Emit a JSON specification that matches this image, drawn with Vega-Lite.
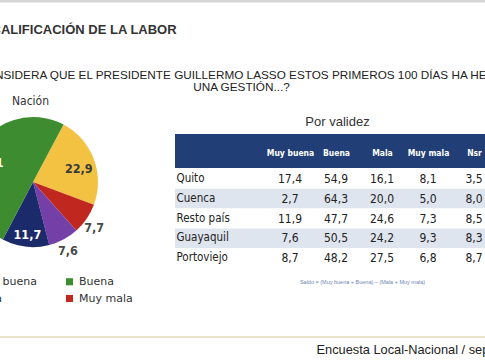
{
  "$schema": "https://vega.github.io/schema/vega-lite/v6.json",
  "width": 485,
  "height": 360,
  "autosize": "none",
  "padding": 0,
  "background": "white",
  "config": {
    "view": {"stroke": null},
    "axis": {"grid": false, "domain": false, "ticks": false, "tickSize": 0, "labels": false, "labelPadding": 0, "labelAngle": 0},
    "locale": {"number": {"decimal": ",", "thousands": ".", "grouping": [3], "currency": ["", " €"]}}
  },
  "datasets": {
    "nacion": [
      {"grupo": "Nación", "categoria": "Mala", "valor": 22.9},
      {"grupo": "Nación", "categoria": "Muy mala", "valor": 7.7},
      {"grupo": "Nación", "categoria": "Nsr", "valor": 7.6},
      {"grupo": "Nación", "categoria": "Muy buena", "valor": 11.7},
      {"grupo": "Nación", "categoria": "Buena", "valor": 50.1}
    ],
    "ciudades": [
      {"ciudad": "Quito", "Muy buena": 17.4, "Buena": 54.9, "Mala": 16.1, "Muy mala": 8.1, "Nsr": 3.5},
      {"ciudad": "Cuenca", "Muy buena": 2.7, "Buena": 64.3, "Mala": 20.0, "Muy mala": 5.0, "Nsr": 8.0},
      {"ciudad": "Resto país", "Muy buena": 11.9, "Buena": 47.7, "Mala": 24.6, "Muy mala": 7.3, "Nsr": 8.5},
      {"ciudad": "Guayaquil", "Muy buena": 7.6, "Buena": 50.5, "Mala": 24.2, "Muy mala": 9.3, "Nsr": 8.3},
      {"ciudad": "Portoviejo", "Muy buena": 8.7, "Buena": 48.2, "Mala": 27.5, "Muy mala": 6.8, "Nsr": 8.7}
    ]
  },
  "resolve": {"scale": {"x": "independent", "y": "independent"}},
  "layer": [
    {
      "data": {"values": [{"seccion": "CALIFICACIÓN DE LA LABOR"}]},
      "mark": {"type": "rule", "color": "#d6d6d6", "strokeWidth": 3},
      "encoding": {
        "y": {"datum": 0, "type": "quantitative", "scale": {"domain": [0, 1], "range": [1, 360]},
          "axis": {"orient": "left", "title": "CALIFICACIÓN DE LA LABOR", "titleAngle": 0, "titleAlign": "left", "titleBaseline": "alphabetic",
            "titleX": -9, "titleY": 33, "titleFont": "Liberation Sans", "titleFontSize": 13, "titleFontWeight": "bold", "titleColor": "#333333"}}
      }
    },
    {
      "data": {"values": [{"fuente": "Encuesta Local-Nacional / septiembre"}]},
      "mark": {"type": "rule", "color": "#e6dbbd", "strokeWidth": 1.5},
      "encoding": {
        "y": {"datum": 0, "type": "quantitative", "scale": {"domain": [0, 1], "range": [337, 360]},
          "axis": {"orient": "left", "title": "Encuesta Local-Nacional / septiembre", "titleAngle": 0, "titleAlign": "left", "titleBaseline": "alphabetic",
            "titleX": 316, "titleY": 353, "titleFont": "Liberation Sans", "titleFontSize": 12.8, "titleFontWeight": "normal", "titleColor": "#222222"}}
      }
    },
    {
      "data": {"name": "ciudades"},
      "transform": [{"window": [{"op": "row_number", "as": "fila"}]}],
      "mark": {"type": "rect"},
      "encoding": {
        "x": {"datum": 0, "type": "quantitative", "scale": {"domain": [0, 1], "range": [175, 490]},
          "axis": {"orient": "bottom", "offset": -79, "title": "Saldo = (Muy buena + Buena) – (Mala + Muy mala)", "titleX": 362, "titleY": 0,
            "titleBaseline": "middle", "titleAlign": "center", "titleFont": "Liberation Sans", "titleFontSize": 5.5, "titleFontWeight": "normal", "titleColor": "#6f86b8"}},
        "x2": {"datum": 1},
        "y": {"field": "ciudad", "type": "nominal", "sort": null,
          "scale": {"type": "band", "range": [169, 268], "paddingInner": 0, "paddingOuter": 0}, "axis": null},
        "color": {"condition": {"test": "datum.fila % 2 == 0", "value": "#dfe5ef"}, "value": "#ffffff"}
      }
    },
    {
      "data": {"values": [{"tabla": "Por validez"}]},
      "mark": {"type": "rect", "color": "#213e76"},
      "encoding": {
        "x": {"datum": 0, "type": "quantitative", "scale": {"domain": [0, 1], "range": [175, 490]},
          "axis": {"orient": "top", "offset": -134, "title": "Por validez", "titleX": 337, "titleY": -13, "titleBaseline": "middle", "titleAlign": "center",
            "titleFont": "Liberation Sans", "titleFontSize": 13, "titleFontWeight": "normal", "titleColor": "#333333"}},
        "x2": {"datum": 1},
        "y": {"datum": 0, "type": "quantitative", "scale": {"domain": [0, 1], "range": [134, 168]}, "axis": null},
        "y2": {"datum": 1}
      }
    },
    {
      "data": {"name": "ciudades"},
      "transform": [{"fold": ["Muy buena", "Buena", "Mala", "Muy mala", "Nsr"], "as": ["columna", "valor"]}],
      "mark": {"type": "text", "font": "DejaVu Sans Condensed", "fontSize": 12, "color": "#222222"},
      "encoding": {
        "x": {"field": "columna", "type": "nominal", "sort": null,
          "scale": {"type": "point", "domain": ["Muy buena", "Buena", "Mala", "Muy mala", "Nsr"], "range": [290, 474], "padding": 0},
          "axis": {"orient": "top", "offset": -152, "zindex": 2, "labels": true, "labelAngle": 0, "labelColor": "#ffffff", "labelFont": "DejaVu Sans Condensed", "labelFontWeight": "bold",
            "labelFontSize": 8.5, "labelBaseline": "middle", "labelAlign": "center", "labelPadding": 0, "title": null}},
        "y": {"field": "ciudad", "type": "nominal", "sort": null,
          "scale": {"type": "band", "range": [169, 268], "paddingInner": 0, "paddingOuter": 0},
          "axis": {"orient": "left", "offset": -176, "zindex": 2, "labels": true, "labelAlign": "left", "labelBaseline": "middle", "labelPadding": 0,
            "labelFont": "DejaVu Sans Condensed", "labelFontSize": 11.5, "labelColor": "#222222", "title": null}},
        "text": {"field": "valor", "type": "quantitative", "format": ".1f"}
      }
    },
    {
      "data": {"name": "nacion"},
      "transform": [{"window": [{"op": "row_number", "as": "orden"}]}],
      "mark": {"type": "arc", "outerRadius": 65},
      "encoding": {
        "theta": {"field": "valor", "type": "quantitative", "stack": true, "scale": {"domain": [0, 100], "range": [0.489, 6.772]}},
        "order": {"field": "orden", "type": "quantitative"},
        "color": {"field": "categoria", "type": "nominal",
          "scale": {"domain": ["Muy buena", "Buena", "Mala", "Muy mala", "Nsr"], "range": ["#1b2a6b", "#3d8c2f", "#f4c243", "#c0281f", "#7440a8"]},
          "legend": {"orient": "none", "direction": "horizontal", "legendX": -39, "legendY": 276, "columns": 2, "symbolType": "square", "symbolSize": 50, "symbolStrokeWidth": 0,
            "labelFont": "DejaVu Sans", "labelFontSize": 11, "labelColor": "#333333", "columnPadding": 27, "rowPadding": 5, "title": null,
            "values": ["Muy buena", "Buena", "Mala", "Muy mala"]}},
        "x": {"field": "grupo", "type": "nominal", "scale": {"type": "point", "range": [0, 66]},
          "axis": {"orient": "top", "offset": -107, "zindex": 2, "labels": true, "labelAngle": 0, "labelAlign": "center", "labelBaseline": "bottom",
            "labelFont": "DejaVu Sans Condensed", "labelFontSize": 12, "labelColor": "#333333", "labelOffset": -3, "title": null}},
        "y": {"field": "grupo", "type": "nominal", "scale": {"type": "point", "range": [116, 248]},
          "axis": {"orient": "left", "title": ["¿CONSIDERA QUE EL PRESIDENTE GUILLERMO LASSO ESTOS PRIMEROS 100 DÍAS HA HECHO", "UNA GESTIÓN...?"],
            "titleAngle": 0, "titleAlign": "center", "titleBaseline": "top", "titleX": 241, "titleY": 69, "titleLineHeight": 12.5,
            "titleFont": "Liberation Sans", "titleFontSize": 11.75, "titleFontWeight": "normal", "titleColor": "#222222"}}
      }
    },
    {
      "data": {"name": "nacion"},
      "transform": [{"window": [{"op": "row_number", "as": "orden"}]}],
      "mark": {"type": "text", "radius": 49, "dy": 4, "font": "DejaVu Sans Condensed", "fontSize": 12.5, "fontWeight": "bold"},
      "encoding": {
        "theta": {"field": "valor", "type": "quantitative", "stack": true},
        "order": {"field": "orden", "type": "quantitative"},
        "x": {"field": "grupo", "type": "nominal", "scale": {"type": "point", "range": [0, 66]}, "axis": null},
        "y": {"field": "grupo", "type": "nominal", "scale": {"type": "point", "range": [116, 248]}, "axis": null},
        "text": {"condition": {"test": "datum.categoria == 'Buena' || datum.categoria == 'Mala' || datum.categoria == 'Muy buena'", "field": "valor", "type": "quantitative", "format": ".1f"}, "value": ""},
        "color": {"condition": {"test": "datum.categoria == 'Mala'", "value": "#3a3a3a"}, "value": "#ffffff"}
      }
    },
    {
      "data": {"name": "nacion"},
      "transform": [{"window": [{"op": "row_number", "as": "orden"}]}],
      "mark": {"type": "text", "radius": 74, "dy": 4, "font": "DejaVu Sans Condensed", "fontSize": 12.5, "fontWeight": "bold", "color": "#4a4a4a"},
      "encoding": {
        "theta": {"field": "valor", "type": "quantitative", "stack": true},
        "order": {"field": "orden", "type": "quantitative"},
        "x": {"field": "grupo", "type": "nominal", "scale": {"type": "point", "range": [0, 66]}, "axis": null},
        "y": {"field": "grupo", "type": "nominal", "scale": {"type": "point", "range": [116, 248]}, "axis": null},
        "text": {"condition": {"test": "datum.categoria == 'Muy mala' || datum.categoria == 'Nsr'", "field": "valor", "type": "quantitative", "format": ".1f"}, "value": ""}
      }
    }
  ]
}
